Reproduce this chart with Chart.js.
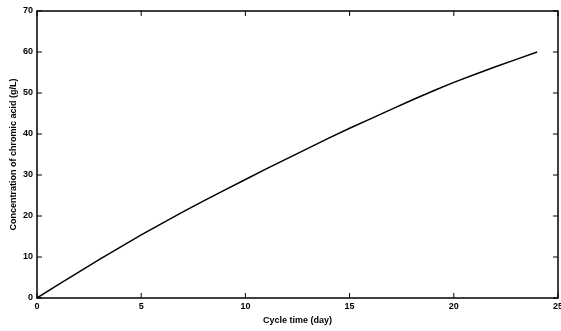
<!DOCTYPE html>
<html>
<head>
<meta charset="utf-8">
<script src="https://cdn.jsdelivr.net/npm/chart.js@4"></script>
<style>
  html, body { margin: 0; padding: 0; background: #fff; }
  #wrap { width: 561px; height: 331px; }
</style>
</head>
<body>
<div id="wrap"><canvas id="chart" width="561" height="331"></canvas></div>
<script>
// data
const cycleDays = [0, 1, 2, 3, 4, 5, 6, 7, 8, 9, 10, 11, 12, 13, 14, 15, 16, 17, 18, 19, 20, 21, 22, 23, 24];
const concentration = [0, 3.2, 6.3, 9.4, 12.4, 15.4, 18.2, 21.0, 23.7, 26.3, 28.9, 31.5, 34.0, 36.5, 39.0, 41.4, 43.7, 46.0, 48.3, 50.5, 52.6, 54.5, 56.4, 58.2, 60.0];
const xTicks = [0, 5, 10, 15, 20, 25];
const yTicks = [0, 10, 20, 30, 40, 50, 60, 70];

const font = { family: 'Liberation Sans, Arial, sans-serif', size: 9, weight: 'bold' };

// matlab style box with inward ticks
const boxTicks = {
  id: 'boxTicks',
  afterDraw(chart) {
    const { ctx, chartArea: a, scales } = chart;
    ctx.save();
    ctx.strokeStyle = '#000';
    ctx.lineWidth = 1.5;
    ctx.strokeRect(a.left, a.top, a.right - a.left, a.bottom - a.top);
    ctx.lineWidth = 1;
    ctx.beginPath();
    xTicks.forEach(v => {
      const x = scales.x.getPixelForValue(v);
      ctx.moveTo(x, a.bottom); ctx.lineTo(x, a.bottom - 5);
      ctx.moveTo(x, a.top); ctx.lineTo(x, a.top + 5);
    });
    yTicks.forEach(v => {
      const y = scales.y.getPixelForValue(v);
      ctx.moveTo(a.left, y); ctx.lineTo(a.left + 5, y);
      ctx.moveTo(a.right, y); ctx.lineTo(a.right - 5, y);
    });
    ctx.stroke();
    ctx.restore();
  }
};

new Chart(document.getElementById('chart'), {
  type: 'line',
  data: {
    datasets: [{
      data: cycleDays.map((d, i) => ({ x: d, y: concentration[i] })),
      borderColor: '#000',
      borderWidth: 1.5,
      pointRadius: 0,
      tension: 0
    }]
  },
  options: {
    responsive: false,
    animation: false,
    layout: { padding: { top: 11, right: 3, left: 0, bottom: 0 } },
    plugins: { legend: { display: false }, tooltip: { enabled: false } },
    scales: {
      x: {
        type: 'linear', min: 0, max: 25,
        afterBuildTicks: s => { s.ticks = xTicks.map(v => ({ value: v })); },
        afterFit: s => { s.height = 33; s.paddingRight = 0; s.paddingLeft = 0; },
        grid: { display: false, drawTicks: false },
        border: { display: false },
        ticks: { color: '#000', font, padding: 3, maxRotation: 0 },
        title: { display: true, text: 'Cycle time (day)', color: '#000', font, padding: { top: 0, bottom: 5 } }
      },
      y: {
        type: 'linear', min: 0, max: 70,
        afterBuildTicks: s => { s.ticks = yTicks.map(v => ({ value: v })); },
        afterFit: s => { s.width = 37; s.paddingTop = 0; s.paddingBottom = 0; },
        grid: { display: false, drawTicks: false },
        border: { display: false },
        ticks: { color: '#000', font, padding: 4 },
        title: { display: true, text: 'Concentration of chromic acid (g/L)', color: '#000', font, padding: { top: 8, bottom: 0 } }
      }
    }
  },
  plugins: [boxTicks]
});
</script>
</body>
</html>
